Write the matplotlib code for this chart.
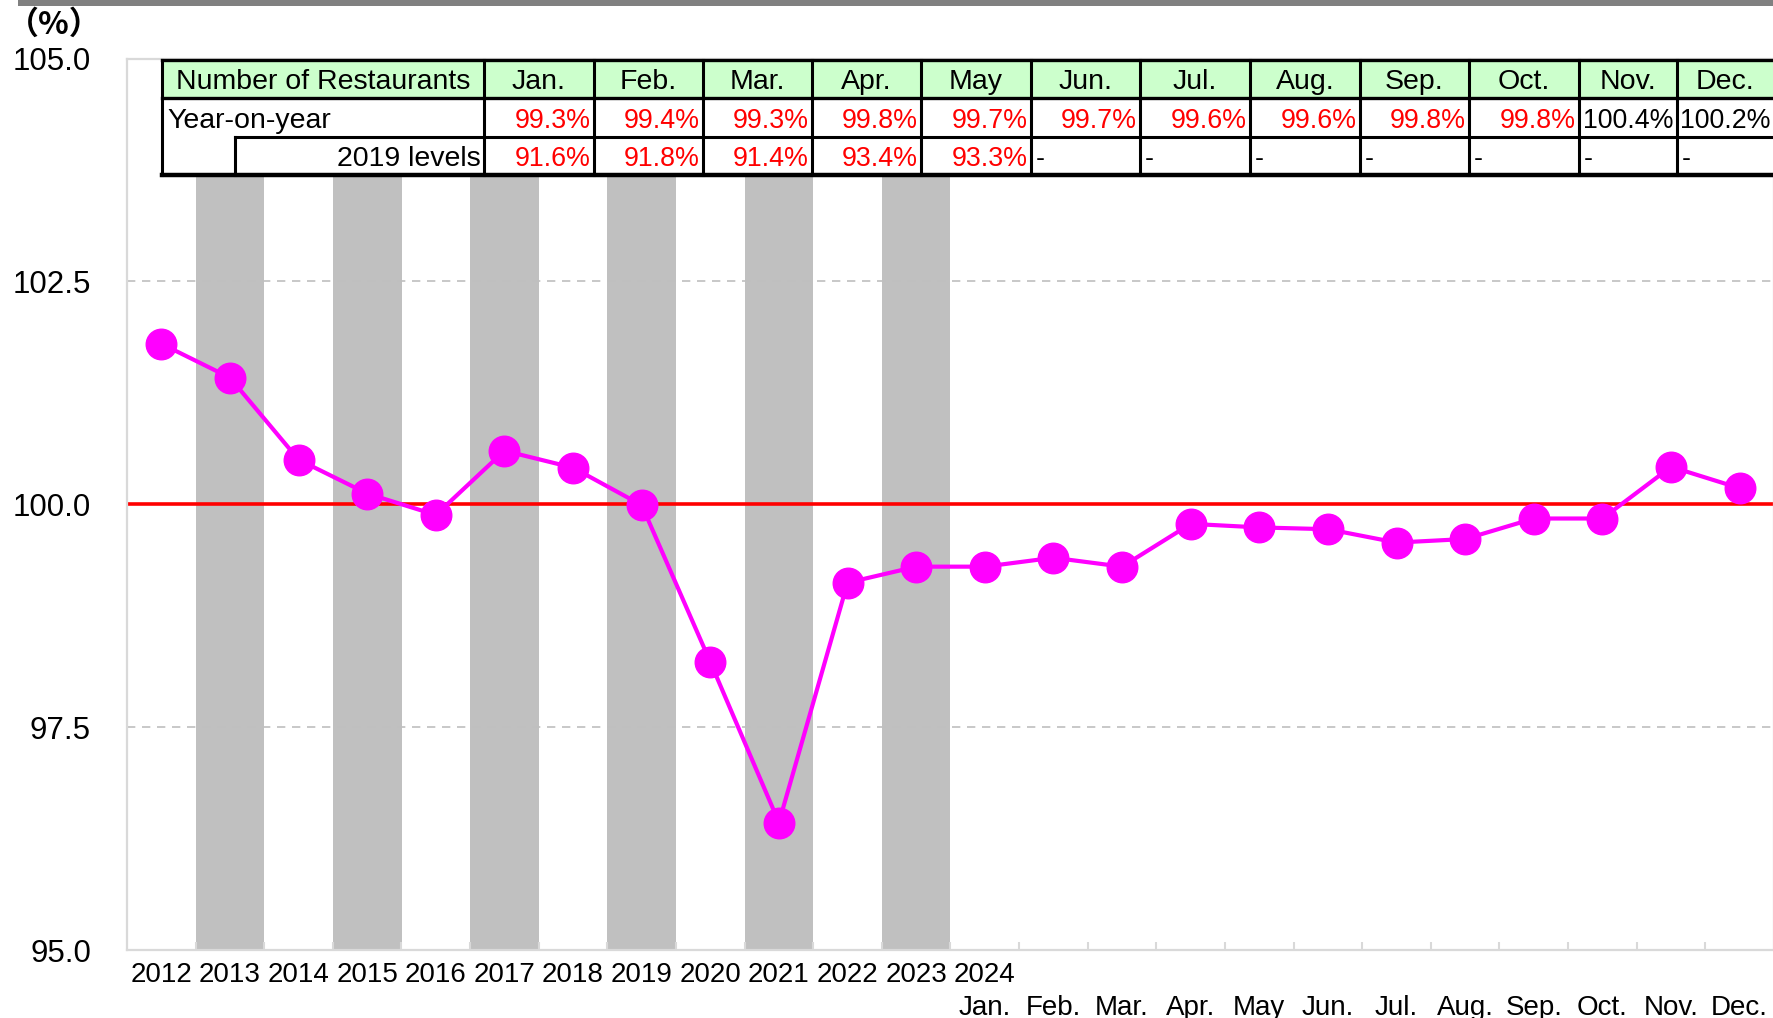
import matplotlib.pyplot as plt
from matplotlib.patches import Rectangle
import numpy as np

# data
years = ["2012", "2013", "2014", "2015", "2016", "2017", "2018", "2019",
         "2020", "2021", "2022", "2023"]
months = ["Jan.", "Feb.", "Mar.", "Apr.", "May", "Jun.", "Jul.", "Aug.",
          "Sep.", "Oct.", "Nov.", "Dec."]
annual_idx = [101.80, 101.42, 100.50, 100.12, 99.88, 100.60, 100.41, 99.99,
              98.23, 96.43, 99.12, 99.30]
monthly_idx = [99.30, 99.40, 99.30, 99.78, 99.74, 99.72, 99.57, 99.61,
               99.84, 99.84, 100.42, 100.18]
yoy_pct = [99.3, 99.4, 99.3, 99.8, 99.7, 99.7, 99.6, 99.6, 99.8, 99.8, 100.4, 100.2]
vs2019_pct = [91.6, 91.8, 91.4, 93.4, 93.3, None, None, None, None, None, None, None]

W, H = 1774, 1018
plt.rcParams['font.family'] = ['Liberation Sans', 'DejaVu Sans']

fig = plt.figure(figsize=(W / 100, H / 100), dpi=100)

# plot area (pixel layout of the reference)
ax_left, ax_top, ax_bottom = 127, 58.5, 950
ax = fig.add_axes([ax_left / W, 1 - ax_bottom / H, 1 - ax_left / W, (ax_bottom - ax_top) / H])

values = annual_idx + monthly_idx
x = np.arange(len(values))

ax.set_xlim(-0.5, len(values) - 0.5)
ax.set_ylim(95, 105)

# shaded bands behind alternate years, stopping under the table
band_top = 103.69
for i in range(1, len(years), 2):
    ax.axvspan(i - 0.5, i + 0.5, ymax=(band_top - 95) / 10, color="#C0C0C0", lw=0, zorder=0)

ax.set_yticks([95, 97.5, 100, 102.5, 105])
ax.set_yticklabels([f"{v:.1f}" for v in [95, 97.5, 100, 102.5, 105]], fontsize=22.5)
ax.yaxis.grid(True, color="#BFBFBF", ls=(0, (5, 4)), lw=1.2, zorder=1)
ax.tick_params(axis="y", length=0, pad=26)

ax.axhline(100, color="#FF0000", lw=2.6, zorder=2)

ax.plot(x, values, color="#FF00FF", lw=3, marker="o", markersize=22, zorder=3)

# x axis: boundary ticks pointing inward, labels as text rows
ax.set_xticks([])
ax.set_xticks(np.arange(len(values) - 1) + 0.5, minor=True)
ax.tick_params(axis="x", which="minor", direction="in", length=6, color="#D9D9D9", width=1.5)
for s in ax.spines.values():
    s.set_color("#D9D9D9")
    s.set_linewidth(1.6)

xfs = 20
trans = ax.get_xaxis_transform()
for i, y in enumerate(years):
    ax.text(i, -0.028, y, transform=trans, ha="center", va="center", fontsize=xfs)
ax.text(len(years), -0.028, "2024", transform=trans, ha="center", va="center", fontsize=xfs)
for j, m in enumerate(months):
    ax.text(len(years) + j, -0.065, m, transform=trans, ha="center", va="center", fontsize=xfs)

fig.text(54 / W, 1 - 25 / H, "（%）", ha="center", va="center", fontsize=23, weight="bold",
         family=["Noto Sans CJK JP"])

# dark strip along the top edge
fig.patches.append(Rectangle((18 / W, 1 - 6 / H), 1, 6 / H, transform=fig.transFigure,
                             color="#808080", lw=0))

# table overlay in pixel coordinates
ov = fig.add_axes([0, 0, 1, 1], zorder=5)
ov.set_xlim(0, W)
ov.set_ylim(H, 0)
ov.axis("off")
ov.patch.set_alpha(0)

col_edges = [162, 484, 594, 703, 812, 921, 1031, 1140, 1250, 1360, 1469, 1579, 1677, 1774]
row_edges = [60, 98, 137, 175]
inner_x = 235

ov.add_patch(Rectangle((col_edges[0], row_edges[0]), W - col_edges[0], row_edges[1] - row_edges[0],
                       color="#CCFFCC", lw=0))
ov.add_patch(Rectangle((col_edges[0], row_edges[1]), W - col_edges[0], row_edges[3] - row_edges[1],
                       color="white", lw=0))

ov.plot([col_edges[0], W], [row_edges[0]] * 2, color="black", lw=2.4)
ov.plot([col_edges[0], W], [row_edges[1]] * 2, color="black", lw=2.4)
ov.plot([inner_x, W], [row_edges[2]] * 2, color="black", lw=2.2)
ov.plot([col_edges[0], W], [row_edges[3]] * 2, color="black", lw=3.2)
for cx in col_edges[:-1]:
    ov.plot([cx, cx], [row_edges[0], row_edges[3]], color="black", lw=2.2)
ov.plot([inner_x, inner_x], [row_edges[2], row_edges[3]], color="black", lw=2.2)

fs = 20.5
dfs = 19.3
ym = [(row_edges[k] + row_edges[k + 1]) / 2 + 3 for k in range(3)]
ov.text((col_edges[0] + col_edges[1]) / 2, ym[0], "Number of Restaurants",
        ha="center", va="center", fontsize=fs)
ov.text(col_edges[0] + 5, ym[1], "Year-on-year", ha="left", va="center", fontsize=fs)
ov.text(col_edges[1] - 3, ym[2], "2019 levels", ha="right", va="center", fontsize=fs)

for j, m in enumerate(months):
    l, r = col_edges[j + 1], col_edges[j + 2]
    ov.text((l + r) / 2, ym[0], m, ha="center", va="center", fontsize=fs)
    v = yoy_pct[j]
    ov.text(r - 3, ym[1], f"{v:.1f}%", ha="right", va="center", fontsize=dfs,
            color="#FF0000" if v < 100 else "black")
    v2 = vs2019_pct[j]
    if v2 is None:
        ov.text(l + 5, ym[2], "-", ha="left", va="center", fontsize=dfs)
    else:
        ov.text(r - 3, ym[2], f"{v2:.1f}%", ha="right", va="center", fontsize=dfs,
                color="#FF0000" if v2 < 100 else "black")

fig.savefig("out.png", dpi=100)
